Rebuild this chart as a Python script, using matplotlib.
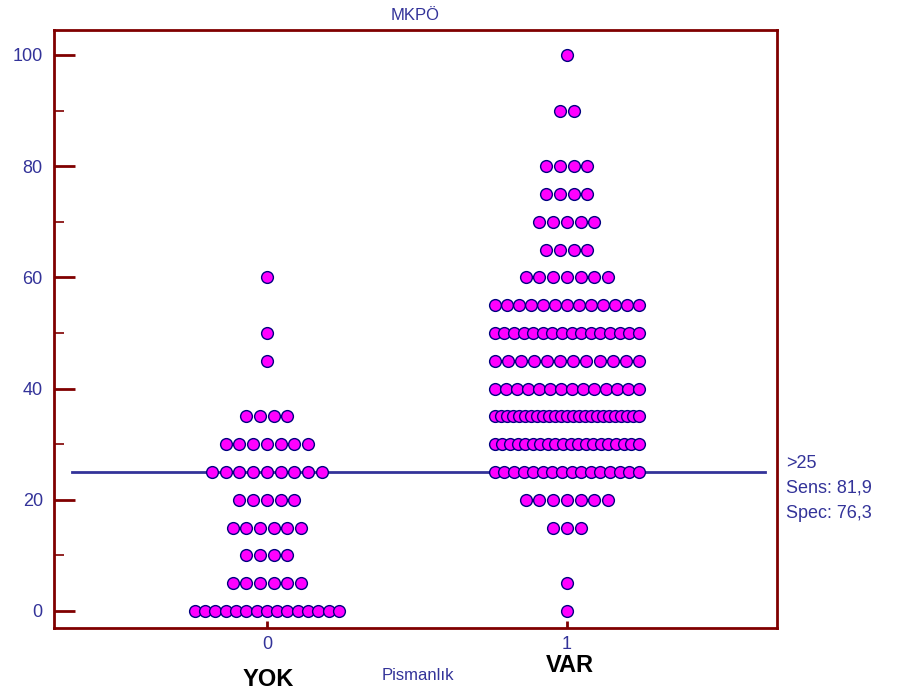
"""Dot plot of MKPÖ by Pismanlık group with cut-off line (>25)."""
import matplotlib as mpl
import matplotlib.pyplot as plt
import numpy as np

mpl.rcParams.update({
    "font.family": ["Liberation Sans", "DejaVu Sans"],
})

# score levels and number of dots at each level, per group
LEVELS_YOK = [0, 5, 10, 15, 20, 25, 30, 35, 45, 50, 60]
COUNTS_YOK = [15, 6, 4, 6, 5, 9, 7, 4, 1, 1, 1]

LEVELS_VAR = [0, 5, 15, 20, 25, 30, 35, 40, 45, 50, 55, 60, 65, 70, 75, 80, 90, 100]
COUNTS_VAR = [1, 1, 3, 7, 16, 20, 25, 14, 12, 16, 13, 7, 4, 5, 4, 4, 2, 1]

GROUP_POS = [0, 1]
GROUP_NAMES = ["YOK", "VAR"]
CUTOFF = 25
CUTOFF_TEXT = [">25", "Sens: 81,9", "Spec: 76,3"]

BLUE = "#333399"
MAROON = "#800000"


def dot_row(center, n, step=0.0457, max_half=0.24):
    if n == 1:
        return np.array([center])
    step = min(step, 2 * max_half / (n - 1))
    return center + (np.arange(n) - (n - 1) / 2) * step


def main():
    fig = plt.figure(figsize=(8.99, 6.95), dpi=100)
    ax = fig.add_axes([0.060, 0.0964, 0.804, 0.8606])

    ax.plot([-0.65, 1.66], [CUTOFF, CUTOFF], color=BLUE, lw=2, zorder=1)

    for pos, levels, counts in [(GROUP_POS[0], LEVELS_YOK, COUNTS_YOK),
                                (GROUP_POS[1], LEVELS_VAR, COUNTS_VAR)]:
        for lvl, n in zip(levels, counts):
            xs = dot_row(pos, n)
            ax.scatter(xs, np.full(n, lvl), s=72, c="#ff00ff",
                       edgecolors="#000080", linewidths=1.0, zorder=3)

    ax.set_xlim(-0.71, 1.70)
    ax.set_ylim(-3.06, 104.5)
    ax.set_yticks([0, 20, 40, 60, 80, 100])
    ax.set_yticks([10, 30, 50, 70, 90], minor=True)
    ax.set_xticks(GROUP_POS)
    ax.set_xticklabels(["0", "1"])

    for sp in ax.spines.values():
        sp.set_color(MAROON)
        sp.set_linewidth(2.0)
    ax.tick_params(axis="both", which="major", direction="in", color=MAROON,
                   width=2.0, labelcolor=BLUE, labelsize=13)
    ax.tick_params(axis="y", which="major", length=15, pad=8)
    ax.tick_params(axis="y", which="minor", direction="in", length=7,
                   width=1.2, color=MAROON)
    ax.tick_params(axis="x", which="major", length=5, pad=6)
    ax.tick_params(axis="x", which="minor", length=0)

    ax.set_title("MKPÖ", color=BLUE, fontsize=12, pad=7)
    fig.text(0.465, 0.028, "Pismanlık", color=BLUE, fontsize=12,
             ha="center", va="center")
    fig.text(0.298, 0.022, GROUP_NAMES[0], color="black", fontsize=17,
             fontweight="bold", ha="center", va="center")
    fig.text(0.634, 0.043, GROUP_NAMES[1], color="black", fontsize=17,
             fontweight="bold", ha="center", va="center")

    for i, t in enumerate(CUTOFF_TEXT):
        fig.text(0.874, 1 - (463 + 25 * i) / 695, t, color=BLUE,
                 fontsize=13, ha="left", va="center")

    fig.savefig("out.png", dpi=100)
    plt.close(fig)


if __name__ == "__main__":
    main()
